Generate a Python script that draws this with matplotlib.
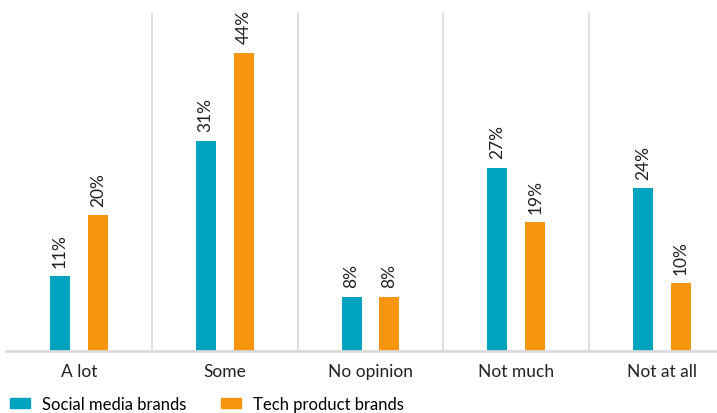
import numpy as np
import matplotlib.pyplot as plt
from matplotlib.patches import Patch

categories = ["A lot", "Some", "No opinion", "Not much", "Not at all"]
social = [11, 31, 8, 27, 24]
tech = [20, 44, 8, 19, 10]
series_names = ["Social media brands", "Tech product brands"]

TEAL = "#00A3BE"
ORANGE = "#F7950F"
GRID = "#d9d9d9"

plt.rcParams['font.family'] = ['Lato', 'DejaVu Sans']

fig = plt.figure(figsize=(7.17, 4.14), dpi=100)
# axes spans 6px..717px horizontally, 13px..352px vertically
ax = fig.add_axes([6 / 717, (414 - 352) / 414, (717 - 6) / 717, (352 - 13) / 414])

x = np.arange(len(categories))
w = 0.137
off = 0.13
b1 = ax.bar(x - off, social, w, color=TEAL)
b2 = ax.bar(x + off, tech, w, color=ORANGE)

for bars, vals in ((b1, social), (b2, tech)):
    for rect, v in zip(bars, vals):
        ax.text(rect.get_x() + rect.get_width() / 2, v + 1.4, f"{v}%",
                rotation=90, ha="center", va="bottom", fontsize=12.5, color="#222222")

# separators between categories
for s in np.arange(0.5, len(categories) - 0.5, 1):
    ax.axvline(s, color=GRID, linewidth=1.2, zorder=0)

ax.set_xlim(-0.5, 4.5 - 18 / 146)
ax.set_ylim(0, 50)
ax.set_xticks(x)
ax.set_xticklabels(categories, fontsize=12.5, color="#222222")
ax.tick_params(axis="x", length=0, pad=9)
ax.set_yticks([])
for side in ("top", "left", "right"):
    ax.spines[side].set_visible(False)
ax.spines["bottom"].set_color(GRID)
ax.spines["bottom"].set_linewidth(2)

handles = [Patch(color=TEAL), Patch(color=ORANGE)]
fig.legend(handles, series_names, loc="center left", bbox_to_anchor=(10 / 717, 9 / 414),
           ncol=2, frameon=False, fontsize=12, handlelength=1.2, handleheight=0.5,
           columnspacing=2.1, handletextpad=0.7, borderpad=0, borderaxespad=0)

fig.savefig("out.png", dpi=100)
